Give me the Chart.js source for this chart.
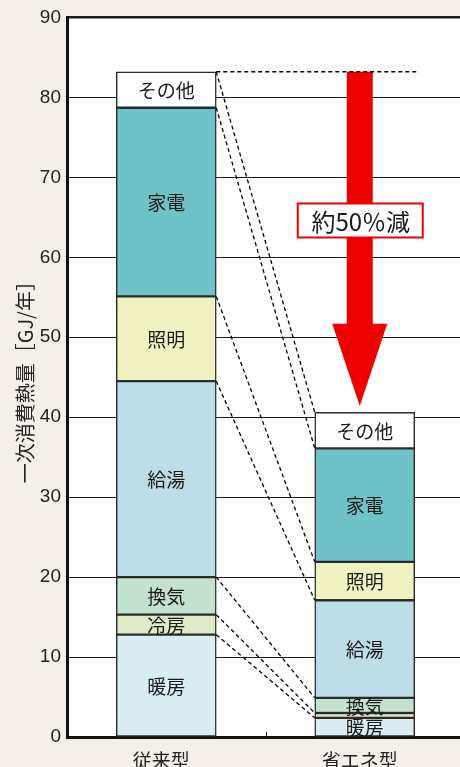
<!DOCTYPE html>
<html><head><meta charset="utf-8">
<script src="https://cdn.jsdelivr.net/npm/chart.js@4/dist/chart.umd.min.js"></script>
<style>
html,body{margin:0;padding:0;background:#F4F0E9;overflow:hidden;width:460px;height:767px}
canvas{display:block}
</style></head><body>
<canvas id="c" width="466" height="790"></canvas>
<script>
// ---- data ----
const categories = ['従来型', '省エネ型'];
const seriesNames = ['暖房', '冷房', '換気', '給湯', '照明', '家電', 'その他'];
const heating     = [12.8, 2.4];
const cooling     = [2.5, 0.6];
const ventilation = [4.7, 1.9];
const hotWater    = [24.5, 12.2];
const lighting    = [10.6, 4.8];
const appliances  = [23.6, 14.2];
const other       = [4.5, 4.5];
const yMin = 0, yMax = 90, yStep = 10;
const yTitle = '一次消費熱量［GJ/年］';
const reductionLabel = '約50％減';
const arrowHeadBaseValue = 51.7;
const arrowTipValue = 41.4;
const reductionLabelValue = 64.6;

const seriesValues = [heating, cooling, ventilation, hotWater, lighting, appliances, other];
const seriesColors = ['#D9EDF2', '#DEEAC8', '#C4E2D0', '#BDDDE9', '#F0F2C2', '#6FC3C8', '#FFFFFF'];

const JP = '"Noto Sans CJK JP", "Noto Sans", sans-serif';
const NUM = '"Liberation Sans", Arial, sans-serif';

const overlay = {
  id: 'overlay',
  beforeDraw(chart) {
    const {ctx, chartArea: a} = chart;
    ctx.save();
    ctx.fillStyle = '#FFFFFF';
    ctx.fillRect(a.left, a.top, a.right - a.left, a.bottom - a.top);
    ctx.restore();
  },
  afterDatasetsDraw(chart) {
    const {ctx, chartArea: a} = chart;
    const ys = chart.scales.y, xs = chart.scales.x;
    const n = chart.data.datasets.length;
    const metas = [];
    for (let i = 0; i < n; i++) metas.push(chart.getDatasetMeta(i));

    // arrow
    const leftTop = metas[n - 1].data[0];
    const rightTop = metas[n - 1].data[1];
    const ax = xs.getPixelForValue(1) - 5;
    const yTop = leftTop.y;
    const yBase = ys.getPixelForValue(arrowHeadBaseValue);
    const yTip = ys.getPixelForValue(arrowTipValue);
    ctx.save();
    ctx.fillStyle = '#EC0000';
    ctx.fillRect(ax - 13, yTop, 26, yBase - yTop + 1);
    ctx.beginPath();
    ctx.moveTo(ax - 27.5, yBase);
    ctx.lineTo(ax + 27.5, yBase);
    ctx.lineTo(ax, yTip);
    ctx.closePath();
    ctx.fill();
    ctx.restore();

    // dashed connectors
    ctx.save();
    ctx.setLineDash([4, 3]);
    ctx.strokeStyle = '#000';
    ctx.lineWidth = 1.3;
    for (let i = 0; i < n; i++) {
      const b0 = metas[i].data[0], b1 = metas[i].data[1];
      ctx.beginPath();
      ctx.moveTo(b0.x + b0.width / 2, b0.y);
      ctx.lineTo(b1.x - b1.width / 2, b1.y);
      ctx.stroke();
    }
    ctx.beginPath();
    ctx.moveTo(leftTop.x + leftTop.width / 2, leftTop.y);
    ctx.lineTo(rightTop.x + rightTop.width / 2 + 3, leftTop.y);
    ctx.stroke();
    ctx.restore();

    // reduction label box
    const ly = ys.getPixelForValue(reductionLabelValue);
    ctx.save();
    ctx.fillStyle = '#FFFFFF';
    ctx.strokeStyle = '#EC0000';
    ctx.lineWidth = 2;
    ctx.fillRect(ax - 62, ly - 17, 125, 34);
    ctx.strokeRect(ax - 62, ly - 17, 125, 34);
    ctx.fillStyle = '#1a1a1a';
    ctx.font = '24px ' + JP;
    ctx.textAlign = 'center';
    ctx.textBaseline = 'middle';
    ctx.fillText(reductionLabel, ax + 1, ly + 1);
    ctx.restore();

    // segment labels
    ctx.save();
    ctx.fillStyle = '#1a1a1a';
    ctx.font = '19px ' + JP;
    ctx.textAlign = 'center';
    ctx.textBaseline = 'middle';
    for (let i = 0; i < n; i++) {
      const ds = chart.data.datasets[i];
      metas[i].data.forEach((b, j) => {
        if (ds.data[j] < 1) return;
        ctx.fillText(ds.label, b.x, (b.y + b.base) / 2 + 1);
      });
    }
    ctx.restore();

    // small inner tick between categories
    const bx = (xs.getPixelForValue(0) + xs.getPixelForValue(1)) / 2;
    ctx.save();
    ctx.strokeStyle = '#111';
    ctx.lineWidth = 1;
    ctx.beginPath();
    ctx.moveTo(Math.round(bx) + 0.5, a.bottom - 5);
    ctx.lineTo(Math.round(bx) + 0.5, a.bottom);
    ctx.stroke();
    ctx.restore();
  }
};

new Chart(document.getElementById('c'), {
  type: 'bar',
  data: {
    labels: categories,
    datasets: seriesNames.map((name, i) => ({
      label: name,
      data: seriesValues[i],
      backgroundColor: seriesColors[i],
      borderColor: '#2b2b2b',
      borderWidth: 1.5,
      borderSkipped: false,
      barThickness: 100
    }))
  },
  options: {
    responsive: false,
    animation: false,
    layout: {padding: {left: 0, right: 2, top: 17, bottom: 0}},
    plugins: {legend: {display: false}, tooltip: {enabled: false}},
    scales: {
      x: {
        stacked: true,
        grid: {display: false, drawTicks: false},
        border: {display: true, color: '#111', width: 3},
        ticks: {font: {family: JP, size: 19}, color: '#222', padding: 12, labelOffset: -5},
        afterFit(s) { s.height = 53; }
      },
      y: {
        stacked: true,
        min: yMin, max: yMax,
        ticks: {stepSize: yStep, font: {family: NUM, size: 19}, color: '#222', padding: 6},
        grid: {color: '#1a1a1a', lineWidth: c => (c.tick && c.tick.value === yMax ? 2.5 : 1), drawTicks: false},
        border: {display: true, color: '#111', width: 3},
        title: {display: true, text: yTitle, font: {family: JP, size: 20}, color: '#222', padding: {top: 13, bottom: 0}},
        afterFit(s) { s.width = 67; }
      }
    }
  },
  plugins: [overlay]
});
</script>
</body></html>
